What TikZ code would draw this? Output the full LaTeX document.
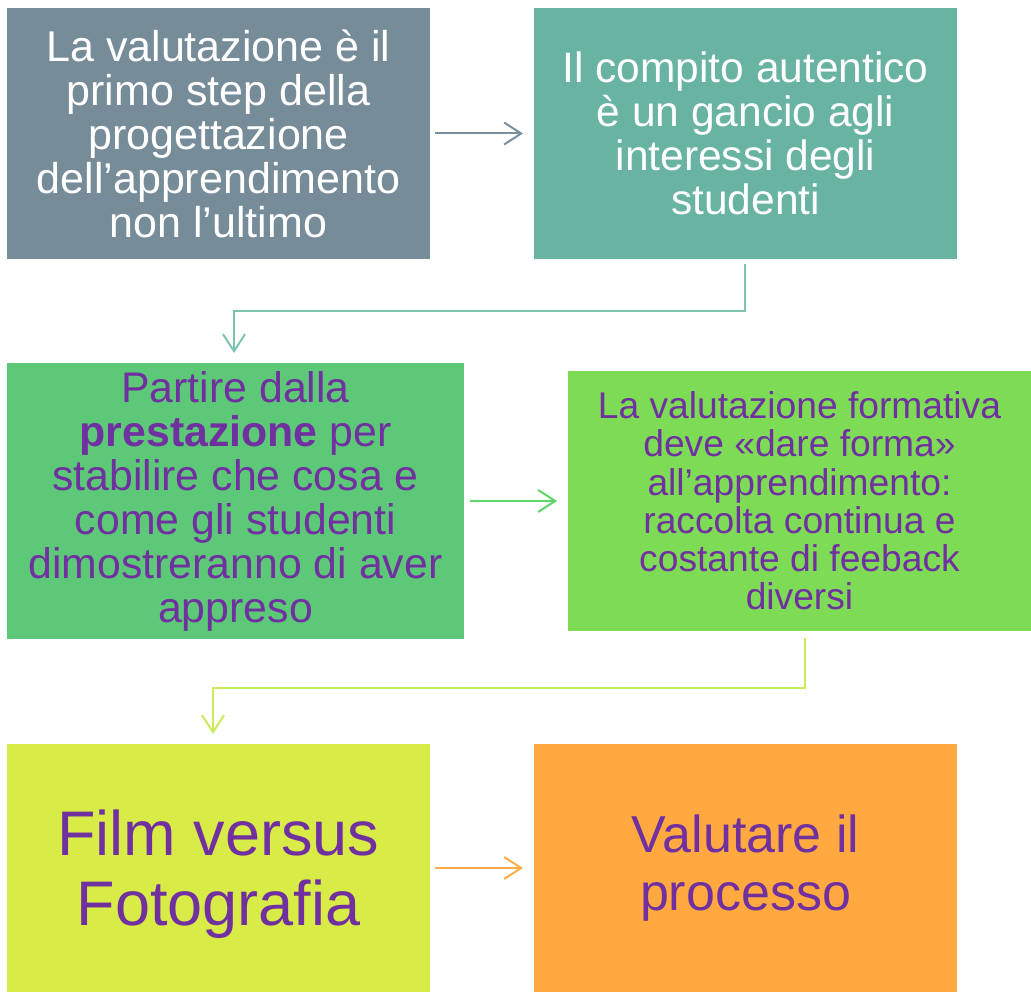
\documentclass[tikz,border=0pt]{standalone}
\usepackage{fontspec}
\setmainfont{Liberation Sans}
\usetikzlibrary{arrows.meta}
\definecolor{cA}{HTML}{778C99}
\definecolor{cB}{HTML}{68B3A2}
\definecolor{cC}{HTML}{5CC878}
\definecolor{cD}{HTML}{7EDB55}
\definecolor{cE}{HTML}{D9EB46}
\definecolor{cF}{HTML}{FFA940}
\definecolor{aA}{HTML}{7B909E}
\definecolor{aB}{HTML}{7DC4AF}
\definecolor{aC}{HTML}{5ED56A}
\definecolor{aD}{HTML}{C8EC5A}
\definecolor{aE}{HTML}{FFAD4A}
\definecolor{purp}{HTML}{7030A0}
\tikzset{
  box/.style={draw=none, inner sep=0pt, outer sep=0pt, align=center, anchor=north west},
  conn/.style={line width=2pt, -{Straight Barb[length=17pt,width=22pt,line width=2pt]}},
}
\begin{document}
\begin{tikzpicture}[x=1pt,y=-1pt]
\useasboundingbox (0,0) rectangle (1031,992);
% boxes
\node[box, fill=cA, minimum width=423pt, minimum height=251pt, text=white,
  font=\fontsize{43}{44}\selectfont] (b1) at (7,8)
  {La valutazione è il\\primo step della\\progettazione\\dell’apprendimento\\non l’ultimo};
\node[box, fill=cB, minimum width=423pt, minimum height=251pt, text=white,
  font=\fontsize{42.5}{44}\selectfont] (b2) at (534,8)
  {Il compito autentico\\è un gancio agli\\interessi degli\\studenti};
\node[box, fill=cC, minimum width=457pt, minimum height=276pt, text=purp,
  font=\fontsize{42.8}{44}\selectfont] (b3) at (7,363)
  {Partire dalla\\\textbf{prestazione} per\\stabilire che cosa e\\come gli studenti\\dimostreranno di aver\\appreso};
\node[box, fill=cD, minimum width=463pt, minimum height=260pt, text=purp,
  font=\fontsize{37.2}{38.2}\selectfont] (b4) at (568,371)
  {La valutazione formativa\\deve «dare forma»\\all’apprendimento:\\raccolta continua e\\costante di feeback\\diversi};
\node[box, fill=cE, minimum width=423pt, minimum height=248pt, text=purp,
  font=\fontsize{63}{70}\selectfont] (b5) at (7,744)
  {\rule{0pt}{58pt}Film versus\\Fotografia};
\node[box, fill=cF, minimum width=423pt, minimum height=248pt, text=purp,
  font=\fontsize{52}{58}\selectfont] (b6) at (534,744)
  {Valutare il\\processo};
% connectors
\coordinate (e1) at (745,311);
\coordinate (e2) at (234,311);
\coordinate (e3) at (805,688);
\coordinate (e4) at (213,688);
\draw[conn, draw=aA] ([xshift=5pt]b1.east) -- ([xshift=-11pt]b2.west);
\draw[conn, draw=aB] (745,264) -- (e1) -- (e2) -- (234,353);
\draw[conn, draw=aC] ([xshift=6pt]b3.east) -- ([xshift=-11pt]b4.west);
\draw[conn, draw=aD] (805,638) -- (e3) -- (e4) -- (213,734);
\draw[conn, draw=aE] ([xshift=5pt]b5.east) -- ([xshift=-11pt]b6.west);
\end{tikzpicture}
\end{document}
